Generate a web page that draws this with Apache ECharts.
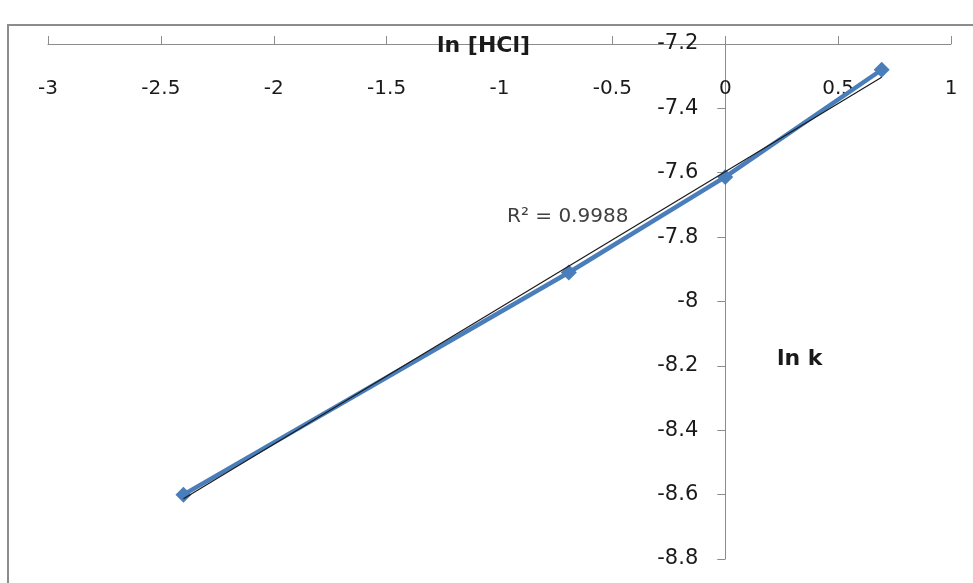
<!DOCTYPE html>
<html><head><meta charset="utf-8">
<script src="https://cdn.jsdelivr.net/npm/echarts@6/dist/echarts.min.js"></script>
<style>html,body{margin:0;padding:0;background:#fff}#c{width:973px;height:583px}</style>
</head><body><div id="c"></div>
<script>
const lnHCl = [-2.4, -0.693, 0, 0.693];
const lnK = [-8.6, -7.91, -7.613, -7.28];
const xTicks = [-3, -2.5, -2, -1.5, -1, -0.5, 0, 0.5, 1];
const yTicks = [-8.8, -8.6, -8.4, -8.2, -8, -7.8, -7.6, -7.4, -7.2];
const r2Text = 'R² = 0.9988';

// least squares trendline from data
const n = lnHCl.length;
const mx = lnHCl.reduce((a,b)=>a+b,0)/n, my = lnK.reduce((a,b)=>a+b,0)/n;
let sxx=0, sxy=0;
for (let i=0;i<n;i++){ sxx+=(lnHCl[i]-mx)**2; sxy+=(lnHCl[i]-mx)*(lnK[i]-my); }
const slope = sxy/sxx, icpt = my - slope*mx;
const xMin = Math.min(...lnHCl), xMax = Math.max(...lnHCl);
const trend = [[xMin, icpt+slope*xMin],[xMax, icpt+slope*xMax]];

const font = 'DejaVu Sans';
const gridL = 48, gridR = 22;
const plotW = 973 - gridL - gridR;
const xMinAx = xTicks[0], xMaxAx = xTicks[xTicks.length-1];
const yAxisOffset = -plotW * (0 - xMinAx) / (xMaxAx - xMinAx);

const chart = echarts.init(document.getElementById('c'));
chart.setOption({
  animation:false,
  backgroundColor:'#fff',
  grid:{left:gridL, right:gridR, top:44, bottom:24},
  xAxis:{type:'value', min:xMinAx, max:xMaxAx, interval:0.5, position:'top',
    axisLine:{onZero:false, lineStyle:{color:'#8c8c8c', width:1}},
    axisTick:{show:true, inside:false, length:8, lineStyle:{color:'#8c8c8c'}},
    splitLine:{show:false},
    axisLabel:{inside:true, margin:35, color:'#1a1a1a', fontSize:20, fontFamily:font,
      formatter:v=>String(v)}
  },
  yAxis:{type:'value', min:yTicks[0], max:yTicks[yTicks.length-1], interval:0.2,
    position:'left', offset:yAxisOffset,
    axisLine:{onZero:false, lineStyle:{color:'#8c8c8c', width:1}},
    axisTick:{show:true, inside:false, length:8, lineStyle:{color:'#8c8c8c'}},
    splitLine:{show:false},
    axisLabel:{margin:27, color:'#1a1a1a', fontSize:21, fontFamily:font,
      formatter:v=>String(Math.round(v*10)/10)}
  },
  series:[
    {type:'line', data:lnHCl.map((x,i)=>[x,lnK[i]]), symbol:'diamond', symbolSize:16,
      lineStyle:{color:'#4a7ebb', width:4.5}, itemStyle:{color:'#4a7ebb'}, z:2},
    {type:'line', data:trend, symbol:'none', lineStyle:{color:'#1a1a1a', width:1.2}, z:3}
  ],
  graphic:[
    {type:'rect', shape:{x:8, y:25, width:1200, height:1200}, style:{fill:'none', stroke:'#8c8c8c', lineWidth:2}, silent:true},
    {type:'text', x:437, y:46, style:{text:'ln [HCl]', font:'bold 22px '+font, fill:'#1a1a1a', verticalAlign:'middle'}, z:10},
    {type:'text', x:777, y:359, style:{text:'ln k', font:'bold 22px '+font, fill:'#1a1a1a', verticalAlign:'middle'}, z:10},
    {type:'text', x:507, y:217, style:{text:r2Text, font:'20px '+font, fill:'#404040', verticalAlign:'middle'}, z:10}
  ]
});
</script></body></html>
